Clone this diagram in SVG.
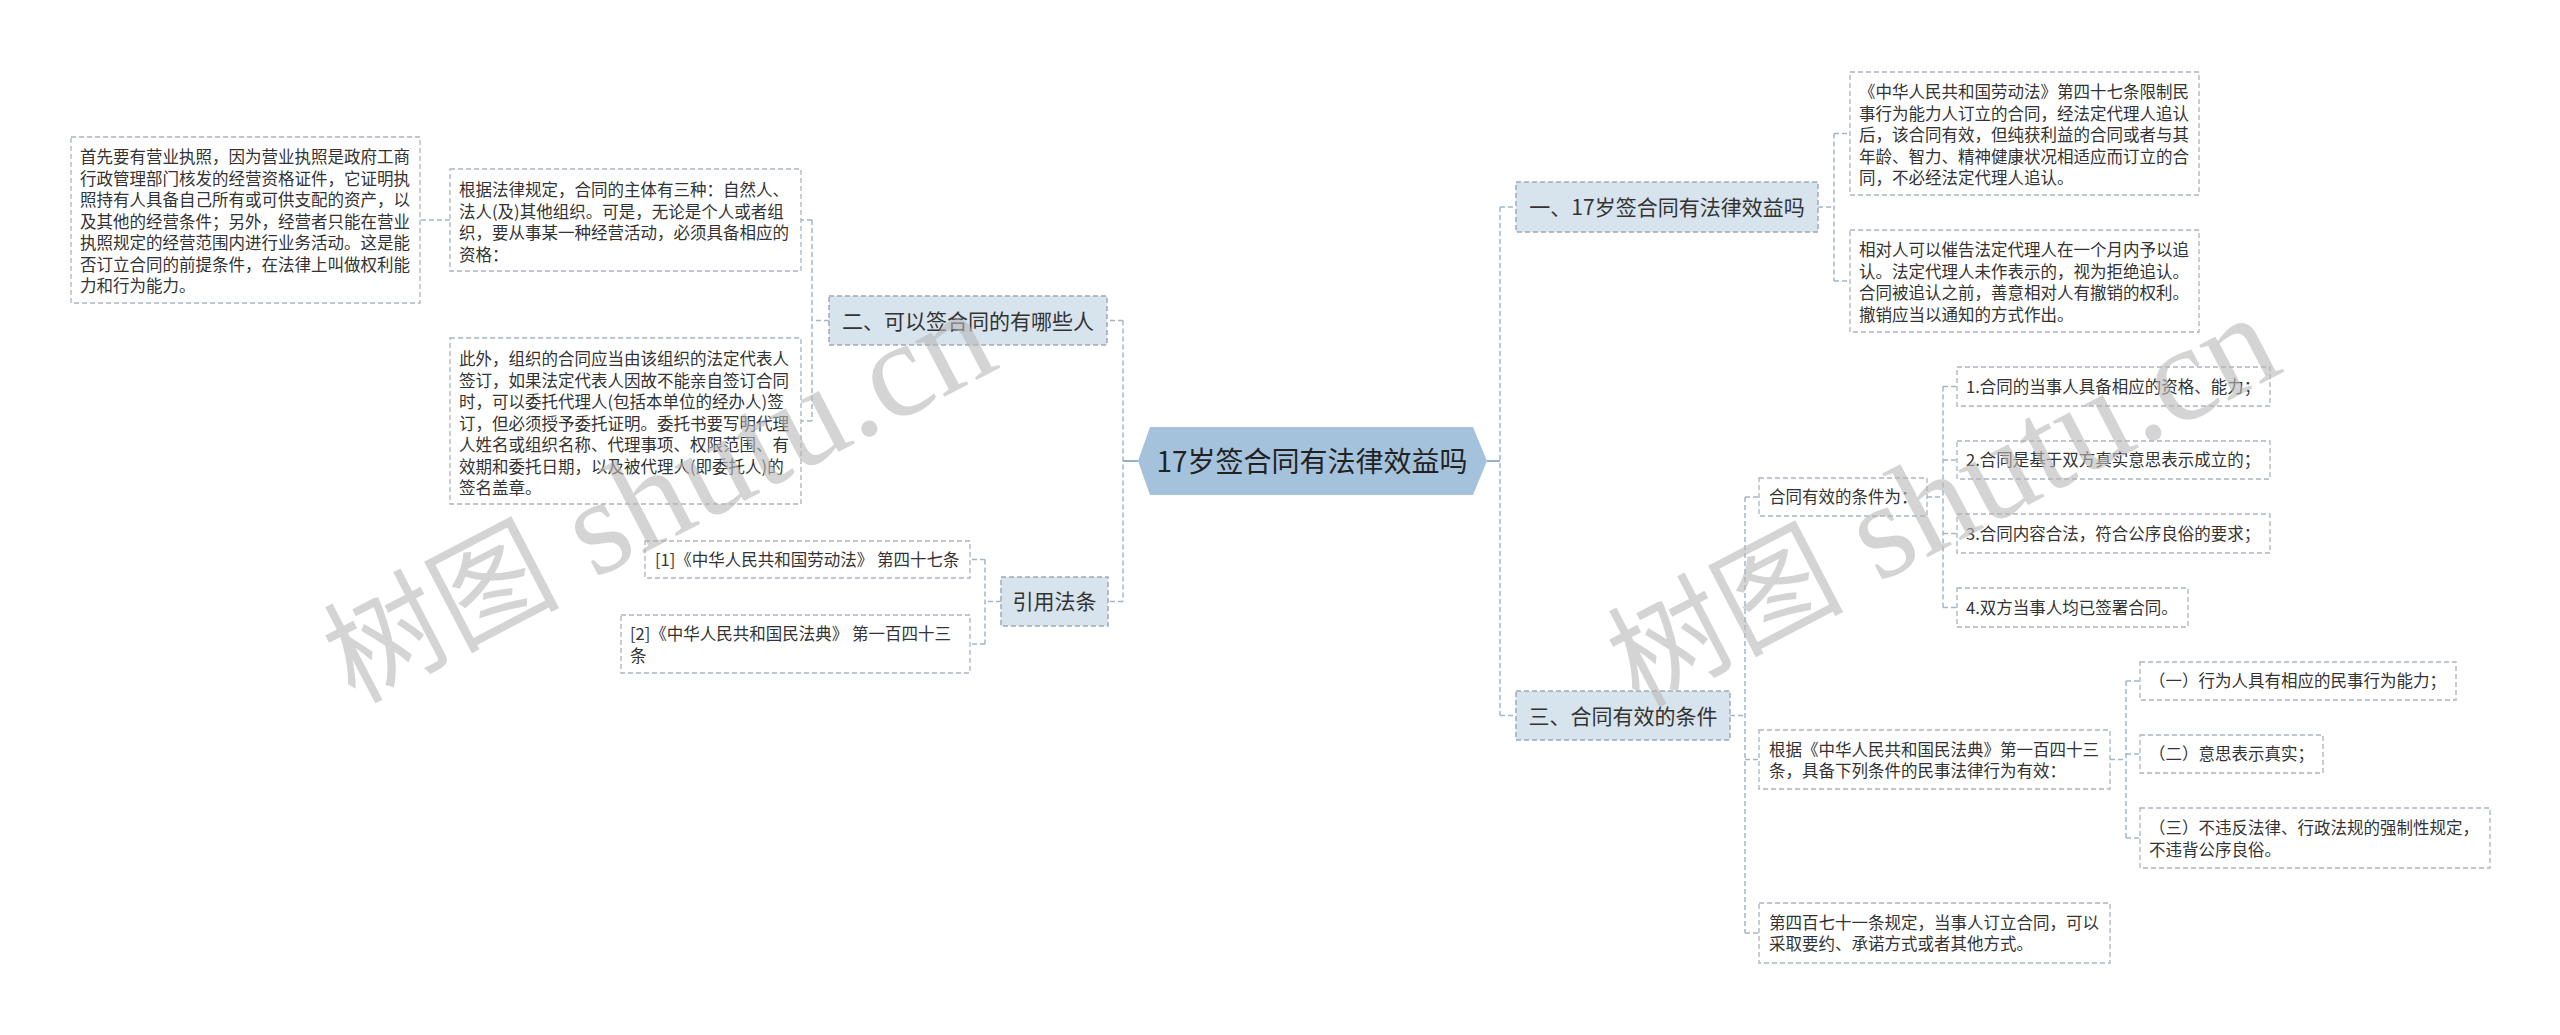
<svg xmlns="http://www.w3.org/2000/svg" width="2560" height="1035" viewBox="0 0 2560 1035">
<style>
.t{font-family:"Noto Sans CJK SC","Liberation Sans",sans-serif;fill:#333;}
.leaf{font-size:16.5px;}
.l1{font-size:21px;text-anchor:middle;}
.root{font-size:28px;text-anchor:middle;fill:#222;}
.box{fill:#fff;stroke:#aab4be;stroke-width:1.3;stroke-dasharray:5 3;}
.n1{fill:#d7e3ed;stroke:#9eaab6;stroke-width:1.5;stroke-dasharray:5 3;}
.c{fill:none;stroke:#a3b6c8;stroke-width:1.5;stroke-dasharray:5 3;}
.wm{font-family:"Liberation Serif","Noto Sans CJK SC",serif;font-size:118px;fill:#b8b8b8;opacity:0.6;}
.wl{font-size:137px;}
</style>
<rect width="2560" height="1035" fill="#fff"/>
<g id="connectors">
<path class="c" d="M1123 320.5V601.5M1123 320.5H1107M1123 601.5H1108"/>
<path d="M1123 461H1138" stroke="#94b2cf" stroke-width="2" fill="none"/>
<path class="c" d="M829 320.5H812M812 220V421M812 220H801M812 421H801"/>
<path class="c" d="M450 220H420"/>
<path class="c" d="M1001 601.5H985M985 559.5V644M985 559.5H970M985 644H970"/>
<path class="c" d="M1500 207V715.5M1500 207H1516M1500 715.5H1516"/>
<path d="M1487 461H1500" stroke="#94b2cf" stroke-width="2" fill="none"/>
<path class="c" d="M1818 207H1834M1834 133.5V281M1834 133.5H1850M1834 281H1850"/>
<path class="c" d="M1730 715.5H1745M1745 497V933M1745 497H1759M1745 759.5H1759M1745 933H1759"/>
<path class="c" d="M1927 497H1943M1943 386.5V607.5M1943 386.5H1957M1943 460H1957M1943 533.5H1957M1943 607.5H1957"/>
<path class="c" d="M2110 759.5H2126M2126 681V838M2126 681H2140M2126 754H2140M2126 838H2140"/>
</g>
<g id="root">
<polygon points="1138,461 1150,427 1473,427 1487,461 1473,495 1150,495" fill="#a5c2dd"/>
<text class="t root" x="1312" y="472">17岁签合同有法律效益吗</text>
</g>
<g id="n2">
<rect class="n1" x="829" y="296" width="278" height="49"/>
<text class="t l1" x="968" y="328.5">二、可以签合同的有哪些人</text>
</g>
<g id="nB">
<rect class="box" x="450" y="169" width="351" height="102"/>
<text class="t leaf" x="459" y="196"><tspan x="459">根据法律规定，合同的主体有三种：自然人、</tspan><tspan x="459" dy="21.5">法人(及)其他组织。可是，无论是个人或者组</tspan><tspan x="459" dy="21.5">织，要从事某一种经营活动，必须具备相应的</tspan><tspan x="459" dy="21.5">资格：</tspan></text>
</g>
<g id="nA">
<rect class="box" x="71" y="137" width="349" height="166"/>
<text class="t leaf" x="80" y="163"><tspan x="80">首先要有营业执照，因为营业执照是政府工商</tspan><tspan x="80" dy="21.5">行政管理部门核发的经营资格证件，它证明执</tspan><tspan x="80" dy="21.5">照持有人具备自己所有或可供支配的资产，以</tspan><tspan x="80" dy="21.5">及其他的经营条件；另外，经营者只能在营业</tspan><tspan x="80" dy="21.5">执照规定的经营范围内进行业务活动。这是能</tspan><tspan x="80" dy="21.5">否订立合同的前提条件，在法律上叫做权利能</tspan><tspan x="80" dy="21.5">力和行为能力。</tspan></text>
</g>
<g id="nC">
<rect class="box" x="450" y="338" width="351" height="166"/>
<text class="t leaf" x="459" y="365"><tspan x="459">此外，组织的合同应当由该组织的法定代表人</tspan><tspan x="459" dy="21.5">签订，如果法定代表人因故不能亲自签订合同</tspan><tspan x="459" dy="21.5">时，可以委托代理人(包括本单位的经办人)签</tspan><tspan x="459" dy="21.5">订，但必须授予委托证明。委托书要写明代理</tspan><tspan x="459" dy="21.5">人姓名或组织名称、代理事项、权限范围、有</tspan><tspan x="459" dy="21.5">效期和委托日期，以及被代理人(即委托人)的</tspan><tspan x="459" dy="21.5">签名盖章。</tspan></text>
</g>
<g id="nCite">
<rect class="n1" x="1001" y="577" width="107" height="49"/>
<text class="t l1" x="1054.5" y="609">引用法条</text>
</g>
<g id="cite1">
<rect class="box" x="645" y="541" width="325" height="37"/>
<text class="t leaf" x="655" y="566">[1]《中华人民共和国劳动法》 第四十七条</text>
</g>
<g id="cite2">
<rect class="box" x="621" y="615" width="349" height="58"/>
<text class="t leaf" x="630" y="640"><tspan x="630">[2]《中华人民共和国民法典》 第一百四十三</tspan><tspan x="630" dy="21.5">条</tspan></text>
</g>
<g id="n1">
<rect class="n1" x="1516" y="182" width="302" height="50"/>
<text class="t l1" x="1667" y="215">一、17岁签合同有法律效益吗</text>
</g>
<g id="r1">
<rect class="box" x="1850" y="72" width="349" height="123"/>
<text class="t leaf" x="1859" y="98"><tspan x="1859">《中华人民共和国劳动法》第四十七条限制民</tspan><tspan x="1859" dy="21.5">事行为能力人订立的合同，经法定代理人追认</tspan><tspan x="1859" dy="21.5">后，该合同有效，但纯获利益的合同或者与其</tspan><tspan x="1859" dy="21.5">年龄、智力、精神健康状况相适应而订立的合</tspan><tspan x="1859" dy="21.5">同，不必经法定代理人追认。</tspan></text>
</g>
<g id="r2">
<rect class="box" x="1850" y="230" width="349" height="102"/>
<text class="t leaf" x="1859" y="256"><tspan x="1859">相对人可以催告法定代理人在一个月内予以追</tspan><tspan x="1859" dy="21.5">认。法定代理人未作表示的，视为拒绝追认。</tspan><tspan x="1859" dy="21.5">合同被追认之前，善意相对人有撤销的权利。</tspan><tspan x="1859" dy="21.5">撤销应当以通知的方式作出。</tspan></text>
</g>
<g id="n3">
<rect class="n1" x="1516" y="691" width="214" height="49"/>
<text class="t l1" x="1623" y="723.5">三、合同有效的条件</text>
</g>
<g id="cond">
<rect class="box" x="1759" y="478" width="168" height="38"/>
<text class="t leaf" x="1769" y="503">合同有效的条件为：</text>
</g>
<g id="cond1">
<rect class="box" x="1957" y="367" width="313" height="39"/>
<text class="t leaf" x="1966" y="392.5">1.合同的当事人具备相应的资格、能力；</text>
</g>
<g id="cond2">
<rect class="box" x="1957" y="441" width="313" height="38"/>
<text class="t leaf" x="1966" y="466">2.合同是基于双方真实意思表示成立的；</text>
</g>
<g id="cond3">
<rect class="box" x="1957" y="514" width="313" height="39"/>
<text class="t leaf" x="1966" y="539.5">3.合同内容合法，符合公序良俗的要求；</text>
</g>
<g id="cond4">
<rect class="box" x="1957" y="588" width="231" height="39"/>
<text class="t leaf" x="1966" y="613.5">4.双方当事人均已签署合同。</text>
</g>
<g id="civil">
<rect class="box" x="1759" y="730" width="351" height="59"/>
<text class="t leaf" x="1769" y="755.5"><tspan x="1769">根据《中华人民共和国民法典》第一百四十三</tspan><tspan x="1769" dy="21.5">条，具备下列条件的民事法律行为有效：</tspan></text>
</g>
<g id="c1">
<rect class="box" x="2140" y="662" width="316" height="38"/>
<text class="t leaf" x="2149" y="687">（一）行为人具有相应的民事行为能力；</text>
</g>
<g id="c2">
<rect class="box" x="2140" y="735" width="183" height="38"/>
<text class="t leaf" x="2149" y="760">（二）意思表示真实；</text>
</g>
<g id="c3">
<rect class="box" x="2140" y="808" width="350" height="60"/>
<text class="t leaf" x="2149" y="834"><tspan x="2149">（三）不违反法律、行政法规的强制性规定，</tspan><tspan x="2149" dy="21.5">不违背公序良俗。</tspan></text>
</g>
<g id="art471">
<rect class="box" x="1759" y="903" width="351" height="60"/>
<text class="t leaf" x="1769" y="928.5"><tspan x="1769">第四百七十一条规定，当事人订立合同，可以</tspan><tspan x="1769" dy="21.5">采取要约、承诺方式或者其他方式。</tspan></text>
</g>
<g id="watermarks">
<text class="wm" transform="translate(354,704) rotate(-27.5)">树图<tspan class="wl"> shutu.cn</tspan></text>
<text class="wm" transform="translate(1638,708) rotate(-27.5)">树图<tspan class="wl"> shutu.cn</tspan></text>
</g>
</svg>
